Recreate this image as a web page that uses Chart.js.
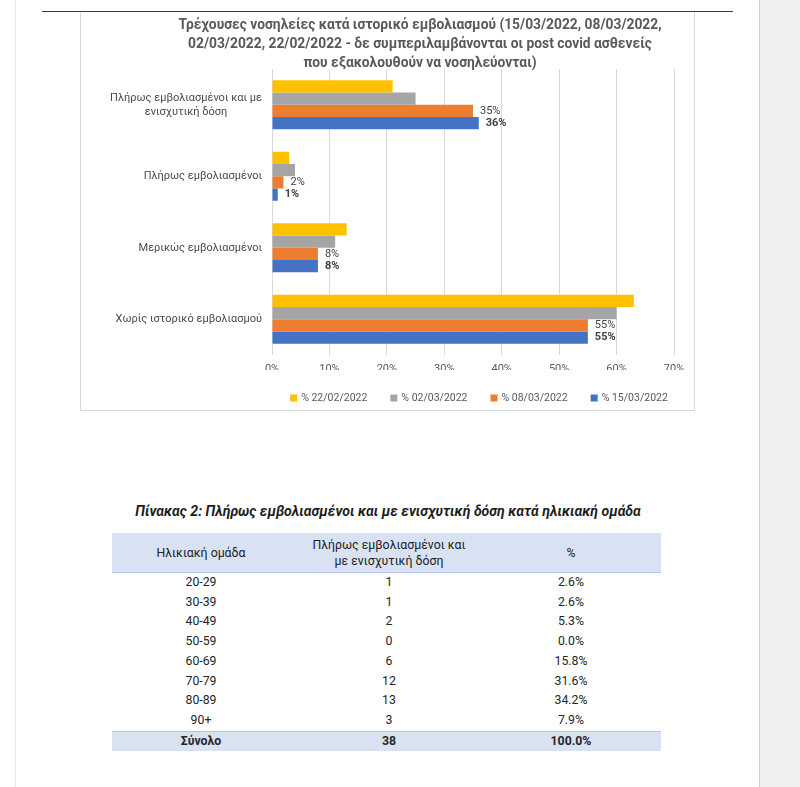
<!DOCTYPE html>
<html>
<head>
<meta charset="utf-8">
<script src="https://cdn.jsdelivr.net/npm/chart.js@4.4.1/dist/chart.umd.min.js"></script>
<style>
html,body{margin:0;padding:0;}
body{width:800px;height:787px;position:relative;background:#fff;overflow:hidden;font-family:Roboto,"Liberation Sans",sans-serif;}
#leftedge{position:absolute;left:15px;top:0;width:1px;height:787px;background:#e9e9e9;}
#rightgray{position:absolute;left:759px;top:0;width:41px;height:787px;background:#f0f0f0;border-left:1px solid #d2d2d2;}
#hline{position:absolute;left:42px;top:11px;width:691px;height:1px;background:#3a3a3a;}
#chartbox{position:absolute;left:80px;top:12px;width:613px;height:398px;border:1px solid #d9d9d9;border-top:none;}
#chartwrap{position:absolute;left:80px;top:12px;width:680px;height:402px;}
#ttitle{position:absolute;left:80px;width:616px;top:503px;text-align:center;font-weight:bold;font-style:italic;font-size:14.1px;color:#1e1e1e;line-height:16px;}
#tbl{position:absolute;left:112px;top:533px;border-collapse:collapse;width:549px;font-size:12.3px;color:#262626;table-layout:fixed;}
#tbl td,#tbl th{padding:0;text-align:center;}
#tbl thead th{background:#D9E2F3;height:39px;font-weight:normal;line-height:16px;border-bottom:1.5px solid #B4C6E7;color:#222;}
#tbl tbody td{height:19.7px;line-height:19.7px;}
#tbl tfoot td{background:#D9E2F3;height:19px;line-height:19px;font-weight:bold;border-top:1.5px solid #B4C6E7;}
#tbl .c3{padding-right:7px;}
</style>
</head>
<body>
<div id="leftedge"></div>
<div id="rightgray"></div>
<div id="chartbox"></div>
<div id="hline"></div>
<div id="chartwrap"><canvas id="c" width="680" height="402"></canvas></div>
<div id="ttitle">Πίνακας 2: Πλήρως εμβολιασμένοι και με ενισχυτική δόση κατά ηλικιακή ομάδα</div>
<table id="tbl">
<colgroup><col style="width:178px"><col style="width:198px"><col style="width:173px"></colgroup>
<thead><tr><th>Ηλικιακή ομάδα</th><th>Πλήρως εμβολιασμένοι και<br>με ενισχυτική δόση</th><th class="c3">%</th></tr></thead>
<tbody id="tbody"></tbody>
<tfoot id="tfoot"></tfoot>
</table>
<script>
// ---------- chart data ----------
const chartTitle = [
  "Τρέχουσες νοσηλείες κατά ιστορικό εμβολιασμού (15/03/2022, 08/03/2022,",
  "02/03/2022, 22/02/2022 - δε συμπεριλαμβάνονται οι post covid ασθενείς",
  "που εξακολουθούν να νοσηλεύονται)"
];
const categories = [
  ["Πλήρως εμβολιασμένοι και με", "ενισχυτική δόση"],
  "Πλήρως εμβολιασμένοι",
  "Μερικώς εμβολιασμένοι",
  "Χωρίς ιστορικό εμβολιασμού"
];
const seriesNames = ["% 22/02/2022", "% 02/03/2022", "% 08/03/2022", "% 15/03/2022"];
const pct_22_02 = [21, 3, 13, 63];
const pct_02_03 = [25, 4, 11, 60];
const pct_08_03 = [35, 2, 8, 55];
const pct_15_03 = [36, 1, 8, 55];
const xTickValues = [0, 10, 20, 30, 40, 50, 60, 70];

// ---------- table data ----------
const ageGroups = ["20-29", "30-39", "40-49", "50-59", "60-69", "70-79", "80-89", "90+"];
const boostedCounts = [1, 1, 2, 0, 6, 12, 13, 3];
const boostedPct = ["2.6%", "2.6%", "5.3%", "0.0%", "15.8%", "31.6%", "34.2%", "7.9%"];
const totalRow = ["Σύνολο", 38, "100.0%"];

// build table
const tb = document.getElementById('tbody');
ageGroups.forEach((g, i) => {
  const tr = document.createElement('tr');
  [g, boostedCounts[i], boostedPct[i]].forEach((v, j) => {
    const td = document.createElement('td');
    td.textContent = v;
    if (j === 2) td.className = 'c3';
    tr.appendChild(td);
  });
  tb.appendChild(tr);
});
const tf = document.getElementById('tfoot');
const ftr = document.createElement('tr');
totalRow.forEach((v, j) => {
  const td = document.createElement('td');
  td.textContent = v;
  if (j === 2) td.className = 'c3';
  ftr.appendChild(td);
});
tf.appendChild(ftr);

// ---------- chart ----------
const FONT = 'Roboto';
const seriesColors = ['#FFC000', '#A5A5A5', '#ED7D31', '#4472C4'];
const seriesData = [pct_22_02, pct_02_03, pct_08_03, pct_15_03];
const labeledSeries = {2: 'normal', 3: 'bold'};

const customDraw = {
  id: 'customDraw',
  afterDatasetsDraw(chart) {
    const ctx = chart.ctx;
    ctx.save();
    ctx.textAlign = 'left';
    ctx.textBaseline = 'middle';
    ctx.fillStyle = '#404040';
    Object.keys(labeledSeries).forEach(k => {
      const di = +k;
      const meta = chart.getDatasetMeta(di);
      ctx.font = labeledSeries[k] + ' 11px ' + FONT;
      meta.data.forEach((bar, i) => {
        ctx.fillText(chart.data.datasets[di].data[i] + '%', bar.x + 7, bar.y);
      });
    });
    ctx.restore();
  },
  afterDraw(chart) {
    const ctx = chart.ctx;
    const ys = chart.scales.y;
    const ca = chart.chartArea;
    ctx.save();
    // category labels
    ctx.font = '11px ' + FONT;
    ctx.fillStyle = '#4a4a4a';
    ctx.textAlign = 'center';
    ctx.textBaseline = 'middle';
    const right = ca.left - 10;
    chart.data.labels.forEach((lab, i) => {
      const lines = Array.isArray(lab) ? lab : [lab];
      const w = Math.max(...lines.map(l => ctx.measureText(l).width));
      const cx = right - w / 2;
      const yc = ys.getPixelForValue(i);
      const lh = 14;
      lines.forEach((l, j) => {
        ctx.fillText(l, cx, yc + (j - (lines.length - 1) / 2) * lh);
      });
    });
    // legend
    ctx.font = '10.5px ' + FONT;
    ctx.textAlign = 'left';
    const box = 7, gapText = 4, gapItem = 23;
    const items = chart.data.datasets.map(d => ({text: d.label, color: d.backgroundColor, w: box + gapText + ctx.measureText(d.label).width}));
    const total = items.reduce((s, it) => s + it.w, 0) + gapItem * (items.length - 1);
    let x = (ca.left + ca.right) / 2 + 6 - total / 2;
    const y = ca.bottom + 43;
    items.forEach(it => {
      ctx.fillStyle = it.color;
      ctx.fillRect(x, y - box / 2, box, box);
      ctx.fillStyle = '#595959';
      ctx.fillText(it.text, x + box + gapText, y + 0.5);
      x += it.w + gapItem;
    });
    ctx.restore();
  }
};

new Chart(document.getElementById('c'), {
  type: 'bar',
  data: {
    labels: categories,
    datasets: seriesNames.map((n, i) => ({
      label: n,
      data: seriesData[i],
      backgroundColor: seriesColors[i],
      borderWidth: 0,
      categoryPercentage: 0.685,
      barPercentage: 1.0
    }))
  },
  options: {
    indexAxis: 'y',
    responsive: false,
    animation: false,
    devicePixelRatio: 1,
    layout: {padding: {left: 0, right: 0, top: 0, bottom: 44}},
    plugins: {
      legend: {display: false},
      tooltip: {enabled: false},
      title: {
        display: true,
        text: chartTitle,
        color: '#595959',
        font: {family: FONT, size: 13.8, weight: 'bold', lineHeight: 19 / 13.8},
        padding: {top: 4.5, bottom: -4.5}
      }
    },
    scales: {
      x: {
        min: xTickValues[0],
        max: xTickValues[xTickValues.length - 1],
        afterBuildTicks(scale) { scale.ticks = xTickValues.map(v => ({value: v})); },
        ticks: {
          callback: v => v + '%',
          color: '#595959',
          font: {family: FONT, size: 11},
          padding: 8
        },
        grid: {color: '#d9d9d9', drawTicks: false, lineWidth: 1},
        border: {display: false},
        afterFit(scale) { scale.height = 15; scale.paddingRight = 86; }
      },
      y: {
        ticks: {display: false},
        grid: {display: false},
        border: {display: false},
        afterFit(scale) { scale.width = 192; }
      }
    }
  },
  plugins: [customDraw]
});
</script>
</body>
</html>
